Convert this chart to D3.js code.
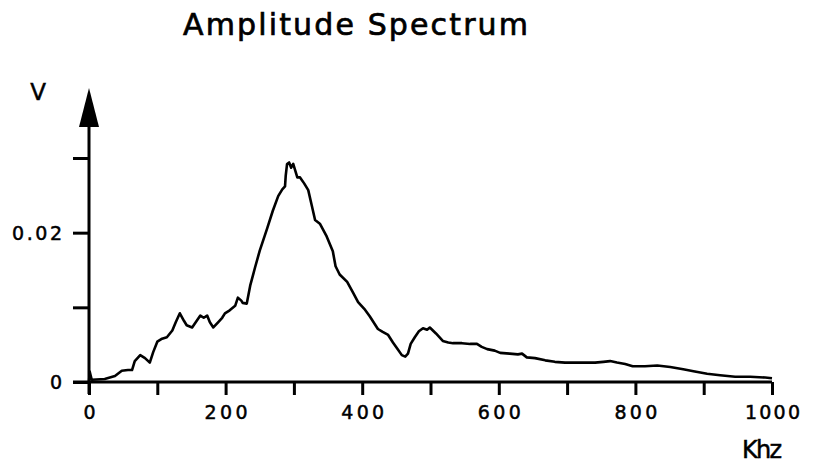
<!DOCTYPE html>
<html><head><meta charset="utf-8">
<script src="https://cdn.jsdelivr.net/npm/d3@7"></script>
<style>
html,body{margin:0;padding:0;background:#fff;}
svg{display:block;}
text{font-family:"DejaVu Sans",sans-serif;fill:#000;}
</style></head>
<body>
<svg id="chart" width="817" height="466"></svg>
<script>
// Frequency (kHz)
const freq = [0,1,4,23,38,48,57,63,67,75,82,89,94,100,107,114,122,127,133,139,143,151,157,163,168,173,177,182,189,195,199,206,214,218,223,225,231,236,243,250,261,269,277,283,287,288,290,293,296,299,302,305,309,315,321,326,331,338,348,357,361,367,378,387,394,403,411,423,430,438,445,452,458,463,467,471,477,483,489,495,499,508,518,526,533,546,558,568,575,583,594,602,616,628,634,641,653,668,682,697,719,741,753,763,773,785,796,814,832,851,870,887,905,924,946,968,990,1000];
// Amplitude (V)
const amp = [0,0.0014,0.0003,0.0004,0.0008,0.0015,0.0016,0.0016,0.0028,0.0036,0.0032,0.0026,0.0040,0.0054,0.0058,0.0060,0.0069,0.0080,0.0092,0.0082,0.0076,0.0073,0.0081,0.0089,0.0086,0.0089,0.0080,0.0073,0.0080,0.0086,0.0092,0.0096,0.0102,0.0113,0.0109,0.0106,0.0105,0.0129,0.0153,0.0176,0.0206,0.0229,0.0249,0.0258,0.0262,0.0276,0.0292,0.0294,0.0287,0.0292,0.0283,0.0274,0.0274,0.0266,0.0257,0.0237,0.0217,0.0212,0.0195,0.0175,0.0155,0.0144,0.0134,0.0119,0.0107,0.0098,0.0088,0.0071,0.0067,0.0063,0.0053,0.0044,0.0036,0.0034,0.0038,0.0051,0.0060,0.0068,0.0072,0.0070,0.0073,0.0065,0.0055,0.0053,0.0052,0.0052,0.0051,0.0051,0.0047,0.0044,0.0042,0.0039,0.0038,0.0037,0.0038,0.0033,0.0032,0.0029,0.0027,0.0026,0.0026,0.0026,0.0027,0.0028,0.0026,0.0024,0.0021,0.0021,0.0022,0.0020,0.0017,0.0014,0.0011,0.0009,0.0007,0.0007,0.0006,0.0005];
const xTicks = [0,100,200,300,400,500,600,700,800,900,1000];
const xTickLabels = ["0","","200","","400","","600","","800","","1000"];
const yTicks = [0,0.01,0.02,0.03];
const yTickLabels = ["0","","0.02",""];
const title = "Amplitude Spectrum";
const xUnit = "Khz";
const yUnit = "V";

const svg = d3.select("#chart");
const x = d3.scaleLinear().domain([0,1000]).range([89,772]);
const y = d3.scaleLinear().domain([0,0.03]).range([382,158]);

// title
svg.append("text").attr("x",355.5).attr("y",35).attr("text-anchor","middle")
  .attr("font-size",30).attr("stroke","#000").attr("stroke-width",0.7)
  .attr("textLength",345).attr("lengthAdjust","spacing").text(title);

// axes lines
const ax = svg.append("g").attr("stroke","#000").attr("fill","none");
ax.append("line").attr("x1",x(0)).attr("x2",x(0)).attr("y1",y(0.03)-32).attr("y2",y(0)+12).attr("stroke-width",3);
ax.append("line").attr("x1",x(0)-16).attr("x2",x(1000)).attr("y1",y(0)).attr("y2",y(0)).attr("stroke-width",3);
// arrow head
svg.append("path").attr("fill","#000")
  .attr("d",`M${x(0)},${y(0.03)-70} L${x(0)+10},${y(0.03)-31} L${x(0)-10},${y(0.03)-31} Z`);

// x ticks
const xa = svg.append("g").attr("transform",`translate(0,${y(0)})`)
  .call(d3.axisBottom(x).tickValues(xTicks).tickSize(13).tickSizeOuter(0)
    .tickFormat((d,i)=>xTickLabels[i]));
xa.select(".domain").remove();
xa.selectAll(".tick line").attr("stroke","#000").attr("stroke-width",3);
xa.selectAll(".tick text").attr("font-size",19).attr("y",37).attr("dy",0)
  .attr("stroke","#000").attr("stroke-width",0.5)
  .each(function(d,i){ const t=xTickLabels[i]; if(t.length>1) d3.select(this).attr("textLength", t.length===3?43:55).attr("lengthAdjust","spacing"); })
  .attr("font-family","DejaVu Sans").attr("fill","#000");

// y ticks
const ya = svg.append("g").attr("transform",`translate(${x(0)},0)`)
  .call(d3.axisLeft(y).tickValues(yTicks).tickSize(16).tickSizeOuter(0)
    .tickFormat((d,i)=>yTickLabels[i]));
ya.select(".domain").remove();
ya.selectAll(".tick line").attr("stroke","#000").attr("stroke-width",3);
ya.selectAll(".tick text").attr("font-size",19).attr("x",-27).attr("dy","0.36em")
  .attr("stroke","#000").attr("stroke-width",0.5)
  .each(function(d,i){ const t=yTickLabels[i]; if(t.length>1) d3.select(this).attr("textLength",50).attr("lengthAdjust","spacing"); })
  .attr("font-family","DejaVu Sans").attr("fill","#000");

// unit labels
svg.append("text").attr("x",38).attr("y",100).attr("text-anchor","middle").attr("font-size",23)
  .attr("stroke","#000").attr("stroke-width",0.5).text(yUnit);
svg.append("text").attr("x",762).attr("y",458).attr("text-anchor","middle").attr("font-size",24)
  .attr("stroke","#000").attr("stroke-width",0.5)
  .attr("textLength",40).attr("lengthAdjust","spacing").text(xUnit);

// curve
const data = freq.map((f,i)=>({f, v:amp[i]}));
svg.append("path").datum(data)
  .attr("fill","none").attr("stroke","#000").attr("stroke-width",2.6).attr("stroke-linejoin","round")
  .attr("d", d3.line().x(d=>x(d.f)).y(d=>y(d.v)));
</script>
</body></html>
